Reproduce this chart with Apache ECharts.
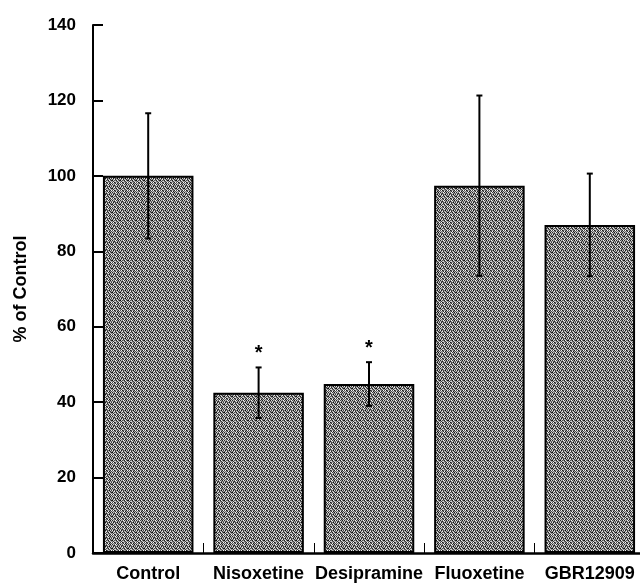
<!DOCTYPE html>
<html>
<head>
<meta charset="utf-8">
<script src="https://cdn.jsdelivr.net/npm/echarts@6/dist/echarts.min.js"></script>
<style>
  html, body { margin: 0; padding: 0; background: #fff; }
  #chart { width: 640px; height: 583px; }
</style>
</head>
<body>
<div id="chart"></div>
<script>
// Uptake as percent of control, mean ± SEM
const categories = ['Control', 'Nisoxetine', 'Desipramine', 'Fluoxetine', 'GBR12909'];
const means = [100, 42.5, 44.8, 97.4, 87.0];
const sem = [16.6, 6.7, 5.8, 23.9, 13.6];
const significant = [false, true, true, false, false];
const yTicks = [0, 20, 40, 60, 80, 100, 120, 140];

// Stippled gray fill for the bars (fixed 8x8 tile of gray levels)
const tile = [
  [40, 200, 110, 250, 60, 170, 20, 220],
  [180, 90, 30, 150, 230, 80, 140, 100],
  [230, 20, 170, 70, 120, 10, 210, 60],
  [100, 140, 240, 40, 190, 160, 50, 170],
  [10, 210, 80, 130, 30, 240, 120, 30],
  [160, 60, 190, 220, 100, 70, 200, 140],
  [70, 250, 20, 90, 180, 130, 40, 250],
  [200, 120, 150, 50, 240, 20, 160, 80]
];
function grainPattern() {
  const c = document.createElement('canvas');
  c.width = 8; c.height = 8;
  const ctx = c.getContext('2d');
  for (let y = 0; y < 8; y++) {
    for (let x = 0; x < 8; x++) {
      const v = tile[y][x];
      ctx.fillStyle = 'rgb(' + v + ',' + v + ',' + v + ')';
      ctx.fillRect(x, y, 1, 1);
    }
  }
  return c;
}

const errorData = categories.map((c, i) => [i, means[i] - sem[i], means[i] + sem[i], significant[i] ? 1 : 0]);

const font = '"Liberation Sans", Arial';
const chart = echarts.init(document.getElementById('chart'), null, { renderer: 'canvas' });
chart.setOption({
  animation: false,
  grid: { left: 93, width: 552, top: 25, bottom: 30, containLabel: false, outerBoundsMode: 'none' },
  xAxis: {
    type: 'category',
    data: categories,
    axisLine: { lineStyle: { color: '#000', width: 2.5 } },
    axisTick: { show: true, inside: true, length: 10, lineStyle: { color: '#000', width: 1 } },
    axisLabel: {
      margin: 12, color: '#000', fontFamily: font, fontWeight: 'bold', fontSize: 18,
      interval: 0
    }
  },
  yAxis: {
    type: 'value',
    min: yTicks[0],
    max: yTicks[yTicks.length - 1],
    interval: 20,
    name: '% of Control',
    nameLocation: 'middle',
    nameRotate: 90,
    nameGap: 63,
    nameTextStyle: { color: '#000', fontFamily: font, fontWeight: 'bold', fontSize: 18 },
    splitLine: { show: false },
    axisLine: { show: true, lineStyle: { color: '#000', width: 2 } },
    axisTick: { show: true, inside: true, length: 10, lineStyle: { color: '#000', width: 2 } },
    axisLabel: { margin: 17, color: '#000', fontFamily: font, fontWeight: 'bold', fontSize: 17 }
  },
  series: [
    {
      type: 'bar',
      data: means,
      barCategoryGap: '18%',
      itemStyle: {
        color: { image: grainPattern(), repeat: 'repeat' },
        borderColor: '#000',
        borderWidth: 2
      }
    },
    {
      type: 'custom',
      data: errorData,
      z: 10,
      renderItem: function (params, api) {
        const x = api.value(0);
        const lo = api.coord([x, api.value(1)]);
        const hi = api.coord([x, api.value(2)]);
        const cap = 3;
        const style = { stroke: '#000', lineWidth: 2 };
        const children = [
          { type: 'line', shape: { x1: hi[0], y1: hi[1], x2: lo[0], y2: lo[1] }, style: style },
          { type: 'line', shape: { x1: hi[0] - cap, y1: hi[1], x2: hi[0] + cap, y2: hi[1] }, style: style },
          { type: 'line', shape: { x1: lo[0] - cap, y1: lo[1], x2: lo[0] + cap, y2: lo[1] }, style: style }
        ];
        if (api.value(3) === 1) {
          children.push({
            type: 'text',
            style: {
              text: '*', x: hi[0], y: hi[1] - 4,
              align: 'center', verticalAlign: 'bottom',
              fill: '#000', font: 'bold 20px "Liberation Sans", Arial'
            }
          });
        }
        return { type: 'group', children: children };
      }
    }
  ]
});
</script>
</body>
</html>
